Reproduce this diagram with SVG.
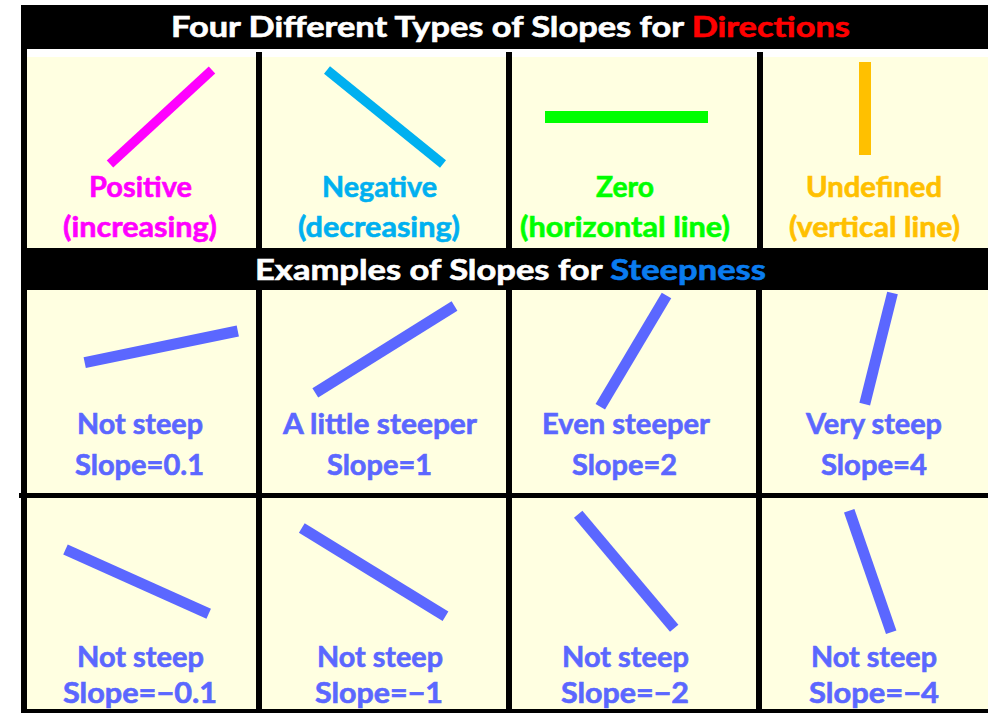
<svg xmlns="http://www.w3.org/2000/svg" width="988" height="713" viewBox="0 0 988 713">
<style>
text{font-family:Lato,"Open Sans","Liberation Sans",sans-serif;font-weight:bold;font-size:28px;text-anchor:middle;stroke-width:0.6}
.t{fill:#fff;stroke:#fff}
.s{fill:#5b67ff;stroke:#5b67ff}
.sl{stroke:#5b67ff;stroke-width:11;stroke-linecap:butt}
.cell{fill:#ffffe1}
.blk{fill:#000}
</style>
<rect width="988" height="713" fill="#fff"/>
<g id="background">
<rect class="cell" x="27" y="57" width="961" height="191"/>
<rect class="cell" x="27" y="290" width="961" height="203"/>
<rect class="cell" x="27" y="498" width="961" height="211"/>
</g>
<g id="grid">
<rect class="blk" x="21" y="5" width="967" height="44"/>
<rect class="blk" x="21" y="248" width="967" height="42"/>
<rect class="blk" x="21" y="5" width="6" height="708"/>
<rect class="blk" x="19" y="493" width="969" height="5"/>
<rect class="blk" x="21" y="709" width="967" height="4"/>
<rect class="blk" x="256" y="52" width="6" height="196"/>
<rect class="blk" x="506" y="52" width="6" height="196"/>
<rect class="blk" x="757" y="52" width="6" height="196"/>
<rect class="blk" x="256" y="290" width="6" height="420"/>
<rect class="blk" x="506" y="290" width="6" height="420"/>
<rect class="blk" x="756" y="290" width="6" height="420"/>
</g>
<g id="title1">
<text class="t" x="510.5" y="37" textLength="679" lengthAdjust="spacingAndGlyphs">Four Different Types of Slopes for <tspan fill="#ff0000" stroke="#ff0000">Directions</tspan></text>
</g>
<g id="title2">
<text class="t" x="510.5" y="280" font-size="29" textLength="511" lengthAdjust="spacingAndGlyphs">Examples of Slopes for <tspan fill="#0a7cf0" stroke="#0a7cf0">Steepness</tspan></text>
</g>
<g id="positive">
<line x1="110" y1="164" x2="212" y2="70" stroke="#ff00ff" stroke-width="9.5"/>
<text x="140.5" y="197" fill="#ff00ff" stroke="#ff00ff" textLength="103" lengthAdjust="spacingAndGlyphs">Positive</text>
<text x="140" y="237" fill="#ff00ff" stroke="#ff00ff" textLength="154" lengthAdjust="spacingAndGlyphs">(increasing)</text>
</g>
<g id="negative">
<line x1="327" y1="70" x2="443" y2="164" stroke="#00b0f0" stroke-width="9.5"/>
<text x="379.5" y="197" fill="#00b0f0" stroke="#00b0f0" textLength="115" lengthAdjust="spacingAndGlyphs">Negative</text>
<text x="379" y="237" fill="#00b0f0" stroke="#00b0f0" textLength="162" lengthAdjust="spacingAndGlyphs">(decreasing)</text>
</g>
<g id="zero">
<rect x="545" y="111" width="163" height="12" fill="#00ff00"/>
<text x="625" y="197" fill="#00ff00" stroke="#00ff00" textLength="58" lengthAdjust="spacingAndGlyphs">Zero</text>
<text x="625" y="237" fill="#00ff00" stroke="#00ff00" textLength="210" lengthAdjust="spacingAndGlyphs">(horizontal line)</text>
</g>
<g id="undefined">
<rect x="859" y="62" width="12" height="93" fill="#ffc000"/>
<text x="874" y="197" fill="#ffc000" stroke="#ffc000" textLength="136" lengthAdjust="spacingAndGlyphs">Undefined</text>
<text x="874.5" y="237" fill="#ffc000" stroke="#ffc000" textLength="171" lengthAdjust="spacingAndGlyphs">(vertical line)</text>
</g>
<g id="slope-0-1">
<line class="sl" x1="84.7" y1="362.7" x2="237.8" y2="331"/>
<text class="s" x="140" y="434" textLength="126" lengthAdjust="spacingAndGlyphs">Not steep</text>
<text class="s" x="139.5" y="475" textLength="129" lengthAdjust="spacingAndGlyphs">Slope=0.1</text>
</g>
<g id="slope-1">
<line class="sl" x1="315.3" y1="392.8" x2="454.5" y2="306"/>
<text class="s" x="380" y="434" textLength="194" lengthAdjust="spacingAndGlyphs">A little steeper</text>
<text class="s" x="379.5" y="475" textLength="105" lengthAdjust="spacingAndGlyphs">Slope=1</text>
</g>
<g id="slope-2">
<line class="sl" x1="600.3" y1="406.7" x2="666.5" y2="295.5"/>
<text class="s" x="626" y="434" textLength="168" lengthAdjust="spacingAndGlyphs">Even steeper</text>
<text class="s" x="624.5" y="475" textLength="105" lengthAdjust="spacingAndGlyphs">Slope=2</text>
</g>
<g id="slope-4">
<line class="sl" x1="864.7" y1="404.2" x2="892.5" y2="293"/>
<text class="s" x="874" y="434" textLength="136" lengthAdjust="spacingAndGlyphs">Very steep</text>
<text class="s" x="874" y="475" textLength="106" lengthAdjust="spacingAndGlyphs">Slope=4</text>
</g>
<g id="slope-neg-0-1">
<line class="sl" x1="65.5" y1="549.5" x2="208.7" y2="613.8"/>
<text class="s" x="140.5" y="667" textLength="127" lengthAdjust="spacingAndGlyphs">Not steep</text>
<text class="s" x="140" y="703" textLength="154" lengthAdjust="spacingAndGlyphs">Slope=−0.1</text>
</g>
<g id="slope-neg-1">
<line class="sl" x1="301.8" y1="528" x2="445.5" y2="616.2"/>
<text class="s" x="380" y="667" textLength="126" lengthAdjust="spacingAndGlyphs">Not steep</text>
<text class="s" x="379" y="703" textLength="128" lengthAdjust="spacingAndGlyphs">Slope=−1</text>
</g>
<g id="slope-neg-2">
<line class="sl" x1="578.2" y1="514.2" x2="674.2" y2="628.3"/>
<text class="s" x="625.5" y="667" textLength="127" lengthAdjust="spacingAndGlyphs">Not steep</text>
<text class="s" x="625" y="703" textLength="128" lengthAdjust="spacingAndGlyphs">Slope=−2</text>
</g>
<g id="slope-neg-4">
<line class="sl" x1="849.2" y1="510.7" x2="891.2" y2="632.3"/>
<text class="s" x="874" y="667" textLength="126" lengthAdjust="spacingAndGlyphs">Not steep</text>
<text class="s" x="874" y="703" textLength="130" lengthAdjust="spacingAndGlyphs">Slope=−4</text>
</g>
</svg>
